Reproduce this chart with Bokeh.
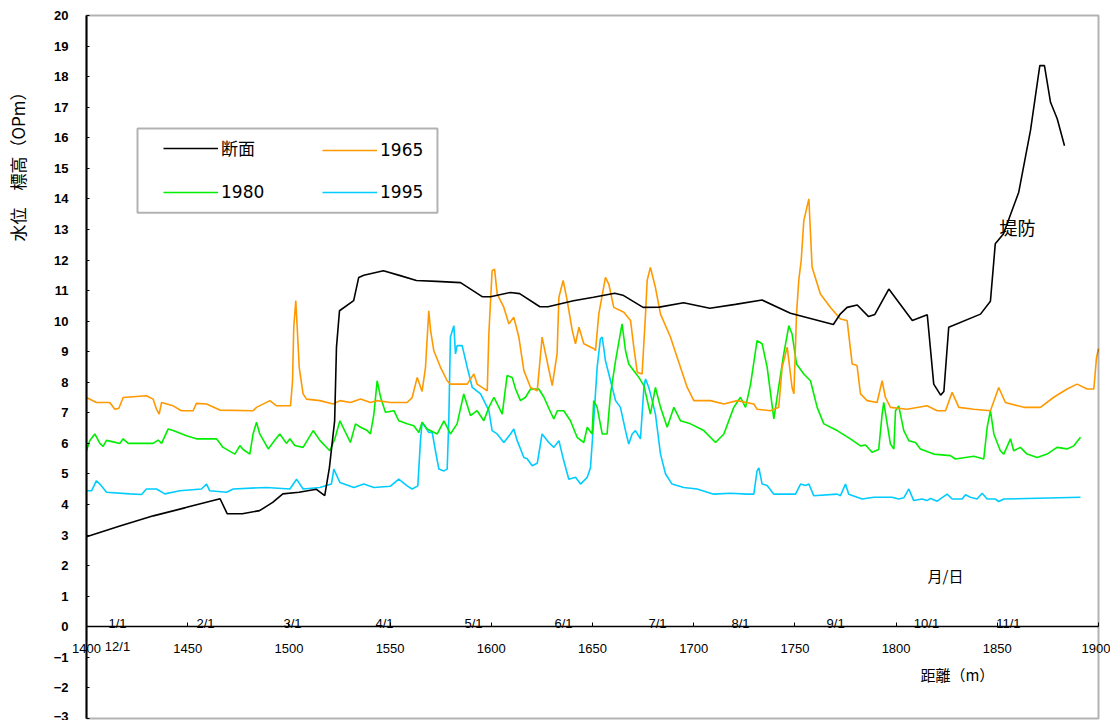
from bokeh.plotting import figure
from bokeh.models import (Range1d, Legend, LegendItem, Label, BoxAnnotation,
                          FixedTicker, ColumnDataSource)
from bokeh.core.properties import value
from bokeh.embed import file_html
from bokeh.resources import INLINE
import math

# ---------------- data ----------------
section_x = [1400, 1416.5, 1433, 1449, 1466, 1469.5, 1477, 1485.5, 1492, 1497, 1505, 1513.6, 1517.7,
             1520, 1522.6, 1523.5, 1525, 1532, 1534.5, 1537, 1546.7, 1555, 1563, 1573, 1584.8, 1595.5,
             1599.6, 1609.5, 1614, 1624, 1628, 1640.6, 1650.5, 1661, 1665, 1675, 1683, 1695, 1708,
             1720.6, 1733.8, 1747.8, 1769, 1772.5, 1775.8, 1780.8, 1786.4, 1789.5, 1796.4, 1808,
             1815.4, 1818.6, 1822, 1823.6, 1826, 1841.7, 1846.6, 1849, 1853, 1860.6, 1866.4, 1871,
             1873.3, 1876.3, 1879.6, 1883.2]
section_y = [2.95, 3.3, 3.63, 3.9, 4.19, 3.7, 3.7, 3.8, 4.07, 4.35, 4.4, 4.5, 4.29,
             5.2, 6.74, 9.14, 10.34, 10.67, 11.43, 11.5, 11.65, 11.49, 11.33, 11.3, 11.26, 10.8,
             10.8, 10.94, 10.9, 10.47, 10.47, 10.67, 10.78, 10.91, 10.85, 10.45, 10.46, 10.6, 10.42,
             10.55, 10.69, 10.26, 9.89, 10.24, 10.45, 10.53, 10.15, 10.22, 11.05, 10.02,
             10.21, 7.94, 7.58, 7.7, 9.8, 10.23, 10.65, 12.53, 12.85, 14.22, 16.24, 18.36,
             18.36, 17.16, 16.62, 15.74]

w1965_x = [1400, 1404.9, 1411.5, 1414, 1416, 1418.1, 1429.6, 1432.9, 1434.6, 1435.9, 1437.1, 1442.8,
           1446.9, 1452.7, 1454.3, 1459.3, 1465.9, 1482.3, 1484, 1490.6, 1493.9, 1500.8, 1501.8,
           1502.4, 1503.4, 1504.1, 1505.1, 1507, 1508.7, 1515.3, 1521.9, 1525.2, 1530.4, 1535.4,
           1540.3, 1543.6, 1550.2, 1558.4, 1560.9, 1563.4, 1565.8, 1567.5, 1569.1, 1570, 1571.6,
           1574.9, 1578.2, 1579.8, 1588.1, 1591.4, 1593, 1598, 1598.8, 1600.4, 1601.6, 1602.9,
           1606.2, 1608.7, 1611.1, 1613.6, 1616.1, 1619.4, 1622.7, 1625.1, 1626.8, 1630.1, 1632.5,
           1633.4, 1635.5, 1637.5, 1640, 1641.6, 1643.3, 1645.7, 1650.7, 1651.5, 1653.1, 1656.4,
           1658.1, 1660.5, 1665.5, 1668.8, 1670.4, 1672.1, 1674.5, 1676.2, 1677, 1678.6, 1681.1,
           1683.6, 1688.5, 1691.8, 1696.8, 1700.1, 1708.3, 1714.9, 1721.5, 1729.7, 1731.3, 1737.9,
           1742, 1743.7, 1746.2, 1748.6, 1749.5, 1750.8, 1751.9, 1753.1, 1754.4, 1756.9, 1758.5,
           1762.6, 1767.6, 1772.5, 1775.8, 1778.3, 1780.7, 1782.4, 1785.7, 1790.6, 1793.1, 1794.7,
           1797.2, 1805.4, 1815.3, 1820.3, 1824.4, 1827.7, 1831, 1838.4, 1846.6, 1850.7, 1854,
           1863.1, 1871.3, 1877.9, 1884.5, 1889.4, 1894.4, 1897.7, 1899, 1900]
w1965_y = [7.5, 7.34, 7.34, 7.12, 7.15, 7.5, 7.56, 7.45, 7.12, 6.96, 7.34, 7.23,
           7.07, 7.07, 7.31, 7.29, 7.09, 7.07, 7.18, 7.4, 7.23, 7.23, 8.05,
           9.8, 10.67, 9.8, 8.49, 7.62, 7.45, 7.4, 7.29, 7.4, 7.34, 7.45,
           7.34, 7.4, 7.34, 7.34, 7.5, 8.16, 7.7, 8.49, 10.34, 9.7, 9.03,
           8.49, 8.05, 7.94, 7.94, 8.27, 7.94, 7.72, 9.59, 11.65, 11.7, 10.89,
           10.45, 9.91, 10.13, 9.48, 8.38, 7.83, 7.72, 9.48, 8.93, 7.89, 8.93,
           10.78, 11.33, 10.67, 9.69, 9.26, 9.8, 9.26, 9.1, 9.04, 10.23, 11.43,
           11.2, 10.45, 10.29, 10.02, 9.15, 8.33, 8.27, 10.23, 11.33, 11.76, 11.1,
           10.23, 9.48, 8.82, 7.83, 7.4, 7.4, 7.29, 7.4, 7.29, 7.12, 7.07,
           7.18, 8.49, 9.15, 7.83, 7.62, 10.23, 11.33, 11.98, 13.29, 14.0, 11.76,
           10.89, 10.45, 10.07, 10.02, 8.6, 8.55, 7.62, 7.4, 7.34, 8.05, 7.51,
           7.18, 7.12, 7.23, 7.07, 7.07, 7.67, 7.18, 7.12, 7.07, 7.83, 7.34,
           7.18, 7.18, 7.51, 7.78, 7.94, 7.78, 7.78, 8.8, 9.1]

w1980_x = [1400, 1401.6, 1404.1, 1406.6, 1408.2, 1409.9, 1413.2, 1416.5, 1418.1, 1420.6, 1432.9,
           1435.4, 1437.1, 1440.3, 1442.8, 1449.4, 1454.3, 1464.2, 1467.5, 1473.3, 1475.8, 1477.4,
           1480.7, 1482.3, 1484, 1485.6, 1489.8, 1493, 1495.5, 1498.8, 1500.5, 1502.9, 1507, 1512,
           1515.3, 1520.2, 1522.7, 1525.2, 1530.4, 1532.9, 1535.4, 1538.7, 1540.3, 1542, 1543.6,
           1545.3, 1547.7, 1551.9, 1554.3, 1558.4, 1561.7, 1564.2, 1565.8, 1568.3, 1573.3, 1576.6,
           1579.8, 1583.1, 1586.4, 1589.7, 1593, 1596.3, 1598.8, 1601.3, 1605.4, 1607.8, 1610.3,
           1612, 1614.4, 1616.9, 1619.4, 1623.5, 1626, 1629.3, 1630.9, 1632.6, 1635.8, 1639.1,
           1642.4, 1645.7, 1647.4, 1649.8, 1650.6, 1652.3, 1654.8, 1657.2, 1658.9, 1661.4, 1664.6,
           1666.3, 1667.9, 1670.4, 1672.9, 1675.4, 1678.6, 1681.1, 1683.6, 1686.9, 1690.2, 1693.5,
           1698.4, 1705, 1710.8, 1714.9, 1719.8, 1723.1, 1725.6, 1728.1, 1731.3, 1733.8, 1736.3,
           1739.6, 1741.2, 1744.5, 1747, 1748.6, 1750.8, 1754.4, 1757.7, 1761, 1764.3, 1770.9,
           1777.4, 1782.4, 1784.9, 1788.1, 1791.4, 1793.1, 1793.9, 1795.6, 1797.2, 1798.9, 1799.7,
           1801.3, 1803.8, 1806.3, 1809.6, 1812, 1818.6, 1826.8, 1829.3, 1838.4, 1843.3, 1845,
           1846.6, 1848.3, 1851.5, 1853.2, 1856.5, 1858.1, 1861.4, 1864.7, 1869.7, 1874.6, 1879.5,
           1884.5, 1887.8, 1891.1]
w1980_y = [5.76, 6.09, 6.31, 6.0, 5.9, 6.1, 6.05, 6.0, 6.15, 6.0, 6.0,
           6.11, 6.0, 6.47, 6.42, 6.25, 6.15, 6.15, 5.87, 5.65, 5.93, 5.8,
           5.65, 6.31, 6.69, 6.31, 5.82, 6.1, 6.31, 6.0, 6.15, 5.93, 5.87, 6.42,
           6.1, 5.76, 6.15, 6.74, 6.03, 6.64, 6.53, 6.42, 6.31, 6.96, 8.05,
           7.51, 7.02, 7.07, 6.74, 6.64, 6.58, 6.36, 6.69, 6.47, 6.31, 6.74,
           6.31, 6.64, 7.62, 6.91, 7.07, 6.74, 7.18, 7.51, 6.96, 8.22, 8.16,
           7.78, 7.4, 7.51, 7.78, 7.78, 7.51, 7.02, 6.8, 7.07, 7.07, 6.74,
           6.2, 6.03, 6.53, 6.31, 7.4, 7.18, 6.31, 6.31, 7.62, 8.71, 9.91,
           9.04, 8.6, 8.38, 8.16, 7.89, 6.96, 7.83, 7.18, 6.53, 7.18, 6.74,
           6.64, 6.42, 6.03, 6.31, 7.18, 7.51, 7.18, 7.94, 9.36, 9.26, 8.49,
           6.8, 7.51, 8.93, 9.85, 9.58, 8.6, 8.27, 8.05, 7.18, 6.64, 6.42,
           6.15, 5.92, 5.95, 5.71, 5.8, 6.96, 7.34, 6.64, 5.98, 5.82, 7.07,
           7.23, 6.42, 6.09, 6.03, 5.82, 5.65, 5.6, 5.49, 5.58, 5.49, 6.53,
           7.07, 6.31, 5.76, 5.65, 6.15, 5.76, 5.87, 5.65, 5.54, 5.65, 5.87,
           5.82, 5.92, 6.2]

w1995_x = [1400, 1402.5, 1404.9, 1406.6, 1409.9, 1421.4, 1427.2, 1429.6, 1434.6, 1438.7, 1446.1,
           1456.8, 1459.3, 1460.9, 1469.2, 1472.5, 1488.9, 1500.5, 1503.8, 1507, 1515.3, 1521,
           1522.2, 1525.2, 1532.1, 1537, 1542, 1550.2, 1554.3, 1558.4, 1560.9, 1563.7, 1565,
           1565.8, 1567.5, 1569.1, 1570.8, 1572.4, 1574.1, 1576.6, 1578.2, 1579, 1579.8, 1581.5,
           1582.3, 1583.1, 1585.6, 1588.1, 1590.6, 1594.7, 1598.8, 1600.4, 1602.9, 1606.2, 1609.5,
           1611.1, 1612.8, 1616.1, 1617.7, 1620.2, 1622.7, 1625.1, 1628.4, 1630.9, 1633.4, 1635.8,
           1638.3, 1641.6, 1644.1, 1647.4, 1649, 1650.6, 1652.3, 1653.9, 1654.8, 1656.4, 1658.9,
           1661.4, 1663.8, 1666.3, 1667.9, 1669.6, 1671.2, 1673.7, 1675.4, 1676.2, 1677.8, 1679.5,
           1681.1, 1683.6, 1686.1, 1689.3, 1695.1, 1701.7, 1709.9, 1718.2, 1726.4, 1729.7, 1731.3,
           1732.2, 1733.8, 1736.3, 1739.6, 1750.3, 1752.8, 1755.2, 1756.9, 1759.3, 1770.9, 1772.5,
           1775, 1776.6, 1783.2, 1789, 1798, 1801.3, 1803.8, 1806.3, 1808.7, 1812.8, 1815.3, 1817,
           1820.3, 1825.2, 1827.7, 1832.6, 1834.3, 1836.7, 1840, 1842.5, 1845, 1849.1, 1850.7,
           1853.2, 1891.1]
w1995_y = [4.45, 4.45, 4.78, 4.67, 4.4, 4.35, 4.33, 4.51, 4.51, 4.35, 4.45,
           4.51, 4.67, 4.45, 4.4, 4.51, 4.56, 4.51, 4.83, 4.51, 4.56, 4.67,
           5.16, 4.72, 4.56, 4.67, 4.56, 4.6, 4.83, 4.61, 4.51, 4.61, 6.09,
           6.69, 6.53, 6.36, 6.36, 5.76, 5.16, 5.1, 5.16, 6.74, 9.48, 9.85,
           8.93, 9.2, 9.2, 8.49, 7.83, 7.62, 7.07, 6.42, 6.31, 6.03, 6.31,
           6.47, 6.09, 5.54, 5.5, 5.27, 5.35, 6.31, 6.03, 5.87, 6.09, 5.43,
           4.83, 4.89, 4.67, 4.89, 5.2, 6.74, 8.49, 9.42, 9.48, 8.71, 8.05,
           7.4, 7.18, 6.42, 5.98, 6.31, 6.42, 6.15, 7.83, 8.11, 7.83, 7.4,
           6.96, 5.65, 5.0, 4.67, 4.56, 4.51, 4.34, 4.37, 4.34, 4.34, 5.1,
           5.2, 4.67, 4.62, 4.34, 4.34, 4.67, 4.62, 4.67, 4.29, 4.34, 4.29,
           4.67, 4.34, 4.18, 4.24, 4.24, 4.18, 4.22, 4.51, 4.13, 4.18, 4.13, 4.2,
           4.11, 4.34, 4.18, 4.18, 4.32, 4.24, 4.18, 4.37, 4.18, 4.18, 4.1,
           4.18, 4.24]

x_ticks = [1400, 1450, 1500, 1550, 1600, 1650, 1700, 1750, 1800, 1850, 1900]
y_ticks = list(range(-3, 21))
month_labels = ["1/1", "2/1", "3/1", "4/1", "5/1", "6/1", "7/1", "8/1", "9/1", "10/1", "11/1", "12/1"]
month_x = [1415.3, 1458.8, 1501.8, 1547.2, 1591.2, 1635.7, 1682.1, 1723.1, 1770.1, 1815.0, 1855.5, 1415.3]
month_y = [0.1, 0.1, 0.1, 0.1, 0.1, 0.1, 0.1, 0.1, 0.1, 0.1, 0.1, -0.66]

NUM_FONT = "Liberation Sans"
JP_FONT = "Noto Sans CJK JP"

# plot box: 1400..1900 / -3..20 ; frame padded so that axis labels are not clipped
PX = 1012 / 500.0          # pixels per metre
PY = 703 / 23.0            # pixels per metre of height
W, H = 1110, 720
x_lo = 1400 - 86 / PX
x_hi = 1900 + (W - 1098) / PX
y_hi = 20 + 15 / PY
y_lo = -3 - (H - 718) / PY

p = figure(width=W, height=H, x_range=Range1d(x_lo, x_hi), y_range=Range1d(y_lo, y_hi),
           output_backend="svg", toolbar_location=None,
           min_border_left=0, min_border_top=0, min_border_bottom=0, min_border_right=0)
p.grid.visible = False
p.outline_line_color = None
p.background_fill_color = "white"
p.border_fill_color = "white"

# x axis at y = 0
xa = p.xaxis[0]
xa.fixed_location = 0
xa.bounds = (1400, 1900)
xa.ticker = FixedTicker(ticks=x_ticks)
xa.axis_line_color = "black"
xa.axis_line_width = 1.5
xa.major_tick_in = 4
xa.major_tick_out = 0
xa.minor_tick_line_color = None
xa.major_label_standoff = 17
xa.major_label_text_font = NUM_FONT
xa.major_label_text_font_size = "13px"
xa.major_label_text_color = "black"

# y axis at x = 1400
ya = p.yaxis[0]
ya.fixed_location = 1400
ya.bounds = (-3, 20)
ya.ticker = FixedTicker(ticks=y_ticks)
ya.axis_line_color = "black"
ya.axis_line_width = 2
ya.major_tick_in = 3
ya.major_tick_out = 0
ya.minor_tick_line_color = None
ya.major_label_standoff = 18
ya.major_label_text_font = NUM_FONT
ya.major_label_text_font_size = "13px"
ya.major_label_text_font_style = "bold"
ya.major_label_text_color = "black"
ya.major_label_overrides = {-1: "\u22121", -2: "\u22122", -3: "\u22123"}

# plot box outline
p.add_layout(BoxAnnotation(left=1400, right=1900, bottom=-3, top=20, fill_alpha=0,
                           line_color="black", line_width=2))

r95 = p.line(w1995_x, w1995_y, line_color="#00CCFF", line_width=1.6)
r80 = p.line(w1980_x, w1980_y, line_color="#00EE00", line_width=1.6)
r65 = p.line(w1965_x, w1965_y, line_color="#FF9900", line_width=1.6)
rsec = p.line(section_x, section_y, line_color="black", line_width=1.6)

# month labels
msrc = ColumnDataSource(dict(x=month_x, y=month_y, t=month_labels))
p.text(x="x", y="y", text="t", source=msrc, text_font=value(NUM_FONT),
       text_font_size="13px", text_align="center", text_baseline="middle",
       text_color="black")

# legend box
p.add_layout(BoxAnnotation(left=1425.2, right=1573.4, bottom=13.55, top=16.3,
                           fill_color="white", fill_alpha=1, line_color="black", line_width=2))

def mk_legend(items, loc):
    return Legend(items=items, location=loc, orientation="vertical",
                  glyph_width=55, glyph_height=20, label_height=20, label_standoff=3,
                  spacing=22, padding=0, margin=0,
                  label_text_font="DejaVu Sans, Noto Sans CJK JP", label_text_font_size="17px",
                  label_text_color="black",
                  border_line_color=None, background_fill_alpha=0)

legA = mk_legend([LegendItem(label="断面", renderers=[rsec]),
                  LegendItem(label="1980", renderers=[r80])], (163, H - 202))
legB = mk_legend([LegendItem(label="1965", renderers=[r65]),
                  LegendItem(label="1995", renderers=[r95])], (322, H - 202))
p.add_layout(legA)
p.add_layout(legB)

# annotations
p.add_layout(Label(x=1860, y=13.09, text="堤防", text_font=JP_FONT, text_font_size="18px",
                   text_align="center", text_baseline="middle", text_color="black"))
p.add_layout(Label(x=1824.4, y=1.67, text="月/日", text_font=JP_FONT, text_font_size="15px",
                   text_align="center", text_baseline="middle", text_color="black"))
p.add_layout(Label(x=1830.3, y=-1.57, text="距離（m）", text_font=JP_FONT, text_font_size="15px",
                   text_align="center", text_baseline="middle", text_color="black"))
p.add_layout(Label(x=1366.0, y=15.19, text="水位　標高（OPm）", text_font=JP_FONT,
                   text_font_size="17px", angle=math.pi / 2,
                   text_align="center", text_baseline="middle", text_color="black"))

open("out.html", "w").write(file_html(p, INLINE))
